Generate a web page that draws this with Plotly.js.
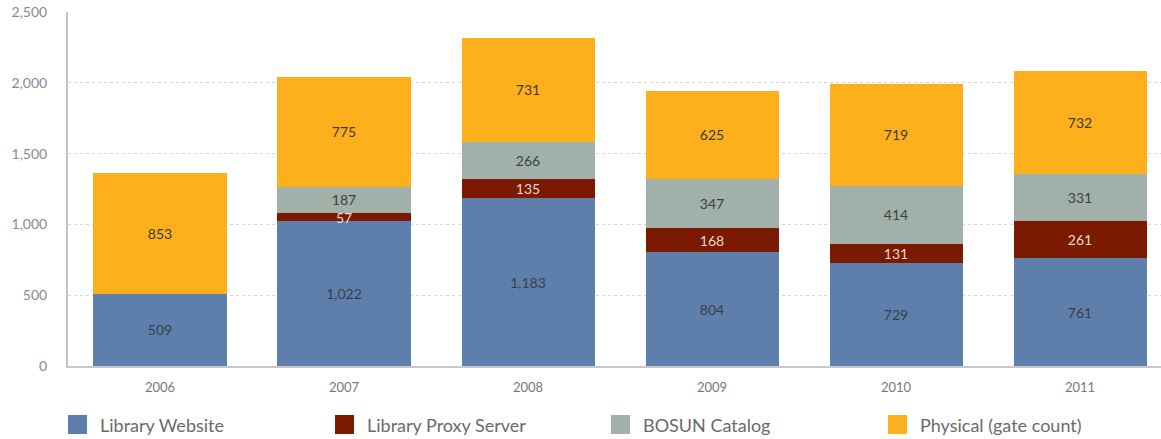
<!DOCTYPE html>
<html>
<head>
<meta charset="utf-8">
<script src="https://cdn.plot.ly/plotly-3.0.1.min.js"></script>
<style>html,body{margin:0;padding:0;background:#fff;}#chart{width:1161px;height:439px;}</style>
</head>
<body>
<div id="chart"></div>
<script>
const years = ['2006', '2007', '2008', '2009', '2010', '2011'];
const seriesNames = ['Library Website', 'Library Proxy Server', 'BOSUN Catalog', 'Physical (gate count)'];
const libraryWebsite = [509, 1022, 1183, 804, 729, 761];
const libraryProxy = [null, 57, 135, 168, 131, 261];
const bosunCatalog = [null, 187, 266, 347, 414, 331];
const physicalGate = [853, 775, 731, 625, 719, 732];
const yTicks = [0, 500, 1000, 1500, 2000, 2500];

const colors = ['#5E7FAB', '#7B1A00', '#A1B1AA', '#FDB01B'];
const textColors = ['#3a3d4a', '#e8d8d0', '#3d4240', '#3d3a30'];
const values = [libraryWebsite, libraryProxy, bosunCatalog, physicalGate];
const FONT = 'Lato, "Open Sans", sans-serif';

const traces = values.map((v, i) => ({
  type: 'bar',
  name: seriesNames[i],
  x: years,
  y: v,
  marker: {color: colors[i], line: {width: 0}},
  texttemplate: '%{y:,}',
  textposition: 'inside',
  insidetextanchor: 'middle',
  textangle: 0,
  constraintext: 'none',
  textfont: {family: FONT, size: 14, color: textColors[i]},
  hoverinfo: 'skip',
  showlegend: false
}));

// custom legend
const legendX = [68, 335, 611, 888];
const L = 68, W = 1161 - 68, H = 354, B = 366;
const px = x => (x - L) / W;
const py = y => (B - y) / H;
const shapes = [], annotations = [];
seriesNames.forEach((n, i) => {
  shapes.push({type: 'rect', xref: 'paper', yref: 'paper',
    x0: px(legendX[i]), x1: px(legendX[i] + 19), y0: py(434), y1: py(415),
    fillcolor: colors[i], line: {width: 0}});
  annotations.push({xref: 'paper', yref: 'paper', x: px(legendX[i] + 30), y: py(424.5),
    xanchor: 'left', yanchor: 'middle', text: n, showarrow: false,
    font: {family: FONT, size: 18, color: '#6a6a6a'}});
});

const layout = {
  width: 1161, height: 439,
  margin: {l: 68, r: 0, t: 12, b: 73},
  barmode: 'stack',
  bargap: 0.277,
  paper_bgcolor: '#fff', plot_bgcolor: '#fff',
  uniformtext: {mode: 'show', minsize: 14},
  xaxis: {
    type: 'category', range: [-0.5, 5.44],
    showgrid: false, zeroline: false,
    showline: true, linecolor: '#c8c8c8', linewidth: 2,
    ticks: '', ticklabelstandoff: 8,
    tickfont: {family: FONT, size: 13, color: '#7a7a7a'}
  },
  yaxis: {
    range: [0, 2500], tickvals: yTicks, tickformat: ',d',
    showgrid: true, gridcolor: '#d4d4d4', griddash: 'dot', gridwidth: 1,
    zeroline: false,
    showline: true, linecolor: '#c4c4c4', linewidth: 2,
    ticks: '', ticklabelstandoff: 16,
    tickfont: {family: FONT, size: 14, color: '#8a8a8a'}
  },
  shapes: shapes,
  annotations: annotations,
  showlegend: false
};

Plotly.newPlot('chart', traces, layout, {displayModeBar: false, staticPlot: true});
</script>
</body>
</html>
